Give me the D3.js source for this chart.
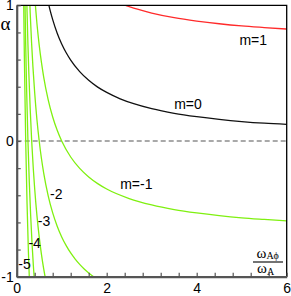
<!DOCTYPE html>
<html>
<head>
<meta charset="utf-8">
<script src="https://cdn.jsdelivr.net/npm/d3@7"></script>
<style>
  body { margin: 0; background: #fff; }
  text { font-family: "Liberation Sans", Arial, sans-serif; }
</style>
</head>
<body>
<div class="plot"></div>
<script>
// curves alpha(omega), one array of [omega, alpha] per m
let seriesM1 = [[2.4,1.002],[2.6,0.979],[2.8,0.960],[3.0,0.943],[3.5,0.909],[4.0,0.884],[4.5,0.864],[5.0,0.848],[5.5,0.836],[6.0,0.825]]
let seriesM0 = [[0.7,1.021],[0.75,0.953],[0.8,0.894],[0.9,0.794],[1.0,0.715],[1.1,0.650],[1.2,0.596],[1.4,0.511],[1.6,0.447],[1.8,0.397],[2.0,0.358],[2.3,0.311],[2.6,0.275],[3.0,0.238],[3.5,0.204],[4.0,0.179],[4.5,0.159],[5.0,0.143],[5.5,0.131],[6.0,0.123]]
let seriesMm1 = [[0.4,1.061],[0.45,0.864],[0.5,0.707],[0.55,0.579],[0.6,0.471],[0.7,0.303],[0.8,0.177],[0.9,0.079],[1.0,0],[1.2,-0.118],[1.4,-0.202],[1.6,-0.265],[1.8,-0.314],[2.0,-0.354],[2.5,-0.424],[3.0,-0.471],[3.5,-0.505],[4.0,-0.530],[4.5,-0.550],[5.0,-0.566],[5.5,-0.578],[6.0,-0.589]]
let seriesMm2 = [[0.27,1.205],[0.3,0.943],[0.33,0.728],[0.36,0.550],[0.4,0.354],[0.45,0.157],[0.5,0],[0.55,-0.129],[0.6,-0.236],[0.7,-0.404],[0.8,-0.530],[0.9,-0.628],[1.0,-0.707],[1.1,-0.771],[1.2,-0.825],[1.3,-0.870],[1.4,-0.909],[1.5,-0.943],[1.6,-0.972],[1.75,-1.010]]
let seriesMm3 = [[0.21,1.246],[0.23,0.953],[0.25,0.707],[0.27,0.498],[0.3,0.236],[0.333,0],[0.37,-0.210],[0.4,-0.354],[0.45,-0.550],[0.5,-0.707],[0.55,-0.836],[0.6,-0.943],[0.66,-1.050]]
let seriesMm4 = [[0.17,1.331],[0.18,1.100],[0.2,0.707],[0.22,0.386],[0.25,0],[0.28,-0.303],[0.31,-0.547],[0.34,-0.749],[0.37,-0.917],[0.4,-1.061]]
let seriesMm5 = [[0.14,1.515],[0.15,1.178],[0.17,0.624],[0.2,0],[0.23,-0.461],[0.26,-0.816],[0.29,-1.097]]

let xTicks = d3.range(0, 16).map(function(i){ return i * 0.4 })
let xLabels = [0, 2, 4, 6]
let yTicks = d3.range(0, 11).map(function(i){ return -1 + i * 0.2 })
let yLabels = [-1, 0, 1]

let curves = [
  {data: seriesM1, color: "#ff2a2a"},
  {data: seriesM0, color: "#111"},
  {data: seriesMm1, color: "#7ff010"},
  {data: seriesMm2, color: "#7ff010"},
  {data: seriesMm3, color: "#7ff010"},
  {data: seriesMm4, color: "#7ff010"},
  {data: seriesMm5, color: "#7ff010"}
]
// curve labels: text and where it sits (omega, alpha of baseline start)
let curveLabels = [
  {text: "m=1", w: 4.95, a: 0.709},
  {text: "m=0", w: 3.50, a: 0.233},
  {text: "m=-1", w: 2.30, a: -0.356},
  {text: "-2", w: 0.74, a: -0.430},
  {text: "-3", w: 0.47, a: -0.627},
  {text: "-4", w: 0.26, a: -0.792},
  {text: "-5", w: 0.035, a: -0.946}
]

let width = 291, height = 296
let margin = {top: 5.3, right: 4.3, bottom: 19.3, left: 16.7}

let x = d3.scaleLinear().domain([0, 6]).range([margin.left, width - margin.right])
let y = d3.scaleLinear().domain([-1, 1]).range([height - margin.bottom, margin.top])

let svg = d3.select(".plot").append("svg")
  .attr("width", width)
  .attr("height", height)

svg.append("clipPath").attr("id", "clip")
  .append("rect")
  .attr("x", x(0)).attr("y", y(1))
  .attr("width", x(6) - x(0)).attr("height", y(-1) - y(1))

// dashed zero line
svg.append("line")
  .attr("x1", x(0)).attr("x2", x(6))
  .attr("y1", y(0)).attr("y2", y(0))
  .attr("stroke", "#555")
  .attr("stroke-width", 1.2)
  .attr("stroke-dasharray", "5,3")

let line = d3.line()
  .x(function(d){ return x(d[0]) })
  .y(function(d){ return y(d[1]) })
  .curve(d3.curveMonotoneX)

svg.append("g").attr("clip-path", "url(#clip)")
  .selectAll("path")
  .data(curves)
  .enter().append("path")
  .attr("d", function(d){ return line(d.data) })
  .attr("fill", "none")
  .attr("stroke", function(d){ return d.color })
  .attr("stroke-width", 1.3)

// frame top and right
svg.append("path")
  .attr("d", "M" + x(0) + "," + y(1) + "H" + x(6) + "V" + y(-1))
  .attr("fill", "none")
  .attr("stroke", "#000")
  .attr("stroke-width", 1.3)

let xAxis = d3.axisBottom(x)
  .tickValues(xTicks)
  .tickSizeInner(-4)
  .tickSizeOuter(0)
  .tickPadding(6)
  .tickFormat(function(d){
    let r = Math.round(d * 10) / 10
    return xLabels.indexOf(r) >= 0 ? String(r) : ""
  })
let yAxis = d3.axisLeft(y)
  .tickValues(yTicks)
  .tickSizeInner(-4)
  .tickSizeOuter(0)
  .tickPadding(3)
  .tickFormat(function(d){
    let r = Math.round(d * 10) / 10
    return yLabels.indexOf(r) >= 0 ? String(r) : ""
  })

let gx = svg.append("g")
  .attr("transform", "translate(0," + y(-1) + ")")
  .call(xAxis)
let gy = svg.append("g")
  .attr("transform", "translate(" + x(0) + ",0)")
  .call(yAxis)

;[gx, gy].forEach(function(g){
  g.select(".domain").attr("stroke", "#555").attr("stroke-width", 2.2)
  g.selectAll(".tick line").attr("stroke", "#555").attr("stroke-width", 1.2)
  g.selectAll(".tick text")
    .attr("fill", "#000")
    .style("font-family", "'Liberation Sans', Arial, sans-serif")
    .style("font-size", "14px")
})
gx.selectAll(".tick text").attr("dy", "0.71em")

// curve labels
svg.selectAll(".clabel")
  .data(curveLabels)
  .enter().append("text")
  .attr("class", "clabel")
  .attr("x", function(d){ return x(d.w) })
  .attr("y", function(d){ return y(d.a) })
  .style("font-size", "14px")
  .text(function(d){ return d.text })

// y title
svg.append("text")
  .attr("x", 0.5)
  .attr("y", 29.5)
  .style("font-family", "'Liberation Serif', 'Times New Roman', serif")
  .style("font-size", "19px")
  .text("α")

// x title as a fraction
let serif = "'Liberation Serif', 'Times New Roman', serif"
let num = svg.append("text")
  .attr("x", 256.5).attr("y", 257.5)
  .style("font-family", serif).style("font-size", "15px")
num.append("tspan").text("ω")
num.append("tspan").attr("dy", 1.5).style("font-size", "10px").text("Aϕ")
svg.append("line")
  .attr("x1", 253).attr("x2", 283)
  .attr("y1", 262).attr("y2", 262)
  .attr("stroke", "#000").attr("stroke-width", 1.1)
let den = svg.append("text")
  .attr("x", 257).attr("y", 272.5)
  .style("font-family", serif).style("font-size", "15px")
den.append("tspan").text("ω")
den.append("tspan").attr("dy", 2.5).style("font-size", "10px").text("A")
</script>
</body>
</html>
